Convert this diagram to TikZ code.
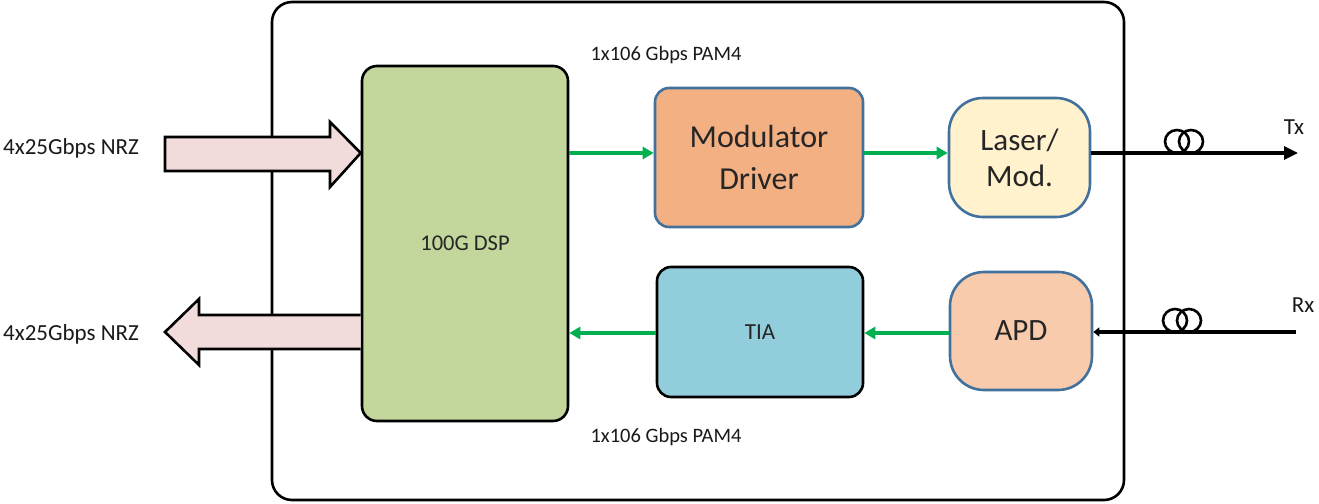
\documentclass[tikz,border=0pt]{standalone}
\usepackage{fontspec}
\setmainfont{Carlito}
\usetikzlibrary{arrows.meta}
\definecolor{dspgreen}{HTML}{C3D69B}
\definecolor{modorange}{HTML}{F3B083}
\definecolor{laseryellow}{HTML}{FFF2CC}
\definecolor{apdpeach}{HTML}{F8CBAD}
\definecolor{tiablue}{HTML}{92CDDC}
\definecolor{edgeblue}{HTML}{41719C}
\definecolor{fatpink}{HTML}{F2DCDB}
\definecolor{sigGreen}{HTML}{00B050}
\tikzset{
  blockbox/.style={rectangle, draw, line width=2.6, inner sep=0, align=center, text=black!85},
  sigarrow/.style={draw=sigGreen, line width=3.6, -{Triangle[length=11pt,width=12pt]}},
  fatarrow/.style={draw=black, fill=fatpink, line width=2.6, line join=miter},
  fibre/.style={draw=black, line width=3.2},
  lbl/.style={inner sep=0, text=black!90},
}
\newcommand{\fs}[1]{\fontsize{#1}{#1}\selectfont}
\begin{document}
\begin{tikzpicture}[x=1pt,y=-1pt]
\useasboundingbox (0,0) rectangle (1319,503);
% outer frame
\draw[line width=2.6, rounded corners=20] (272,2) rectangle (1124,500);
% blocks
\node[blockbox, fill=dspgreen, rounded corners=15, minimum width=206, minimum height=355, font=\fs{22.5}] (dsp) at (465,243.5) {100G DSP};
\node[blockbox, draw=edgeblue, fill=modorange, rounded corners=14, minimum width=208, minimum height=139, font=\fontsize{32}{42}\selectfont] (mod) at (759,157.5) {Modulator\\Driver};
\node[blockbox, draw=edgeblue, fill=laseryellow, rounded corners=34, minimum width=141, minimum height=119, font=\fontsize{31}{36}\selectfont] (laser) at (1019.5,157.5) {Laser/\\Mod.};
\node[blockbox, fill=tiablue, rounded corners=14, minimum width=206, minimum height=130, font=\fs{23}] (tia) at (760,332) {TIA};
\node[blockbox, draw=edgeblue, fill=apdpeach, rounded corners=34, minimum width=142, minimum height=118, font=\fs{31}] (apd) at (1021,331) {APD};
% green signal arrows
\coordinate (txrow) at (0,153);
\coordinate (rxrow) at (0,333);
\draw[sigarrow] (dsp.east |- txrow) -- (mod.west |- txrow);
\draw[sigarrow] (mod.east |- txrow) -- (laser.west |- txrow);
\draw[sigarrow] (apd.west |- rxrow) -- (tia.east |- rxrow);
\draw[sigarrow] (tia.west |- rxrow) -- (dsp.east |- rxrow);
% fat arrows
\draw[fatarrow] (165,137) -- (330,137) -- (330,122) -- (dsp.west |- txrow) -- (330,187) -- (330,171) -- (165,171) -- cycle;
\draw[fatarrow] (dsp.west |- 0,349) -- (199,349) -- (199,365) -- (165,332) -- (199,299) -- (199,315) -- (dsp.west |- 0,315);
% labels
\node[lbl, anchor=west, font=\fs{23}] (inlbl) at (3,148) {4x25Gbps NRZ};
\node[lbl, anchor=west, font=\fs{23}] (outlbl) at (3,334) {4x25Gbps NRZ};
\node[lbl, font=\fs{20.5}] (pamtop) at (666,55) {1x106 Gbps PAM4};
\node[lbl, font=\fs{20.5}] (pambot) at (666,437) {1x106 Gbps PAM4};
% Tx / Rx fibres
\coordinate (txend) at (1298,153);
\coordinate (rxstart) at (1296,332);
\draw[fibre, -{Triangle[length=14pt,width=13pt]}] (laser.east |- txend) -- (txend);
\draw[fibre, -{Triangle[length=6pt,width=9pt]}] (rxstart) -- (apd.east |- rxstart);
\begin{scope}[line width=2.6]
\draw (1177,141.5) ellipse [x radius=12, y radius=11.5];
\draw (1191,141.5) ellipse [x radius=12, y radius=11.5];
\draw (1175,320.5) ellipse [x radius=12, y radius=11.5];
\draw (1189,320.5) ellipse [x radius=12, y radius=11.5];
\end{scope}
\node[lbl, font=\fs{23}] (txlbl) at (1294,127) {Tx};
\node[lbl, font=\fs{23}] (rxlbl) at (1303,305) {Rx};
\end{tikzpicture}
\end{document}
